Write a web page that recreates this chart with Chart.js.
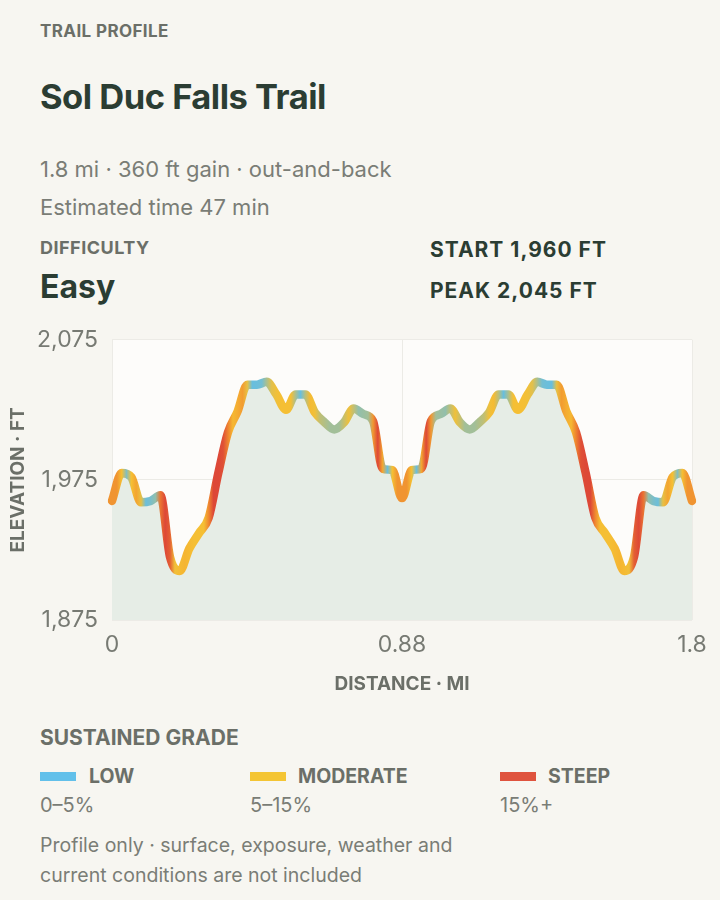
<!DOCTYPE html>
<html>
<head>
<meta charset="utf-8">
<script src="https://cdn.jsdelivr.net/npm/chart.js@4.4.1/dist/chart.umd.min.js"></script>
<style>
  html, body { margin: 0; padding: 0; }
  body {
    width: 720px; height: 900px; position: relative; overflow: hidden;
    background: #f7f6f1; font-family: Inter, "Noto Sans", sans-serif;
  }
  .t { position: absolute; white-space: nowrap; }
  .kicker { color: #6b6f68; font-weight: 700; }
  .dark { color: #2b3d33; font-weight: 700; }
  .grey { color: #7a7d76; }
  .sw { position: absolute; width: 36px; height: 9px; }
  #wrap { position: absolute; left: 0; top: 312px; width: 720px; height: 398px; }
</style>
</head>
<body>
<div class="t kicker" style="left:40px;top:20px;font-size:17px;line-height:22px;letter-spacing:0.4px;">TRAIL PROFILE</div>
<div class="t dark" style="left:40px;top:76px;font-size:34.5px;line-height:42px;letter-spacing:-0.5px;">Sol Duc Falls Trail</div>
<div class="t grey" style="left:40px;top:156px;font-size:22px;line-height:26px;">1.8 mi · 360 ft gain · out-and-back</div>
<div class="t grey" style="left:40px;top:194px;font-size:22px;line-height:26px;">Estimated time 47 min</div>
<div class="t kicker" style="left:40px;top:237px;font-size:18px;line-height:22px;letter-spacing:0.5px;">DIFFICULTY</div>
<div class="t dark" style="left:40px;top:268px;font-size:32px;line-height:38px;">Easy</div>
<div class="t dark" style="left:430px;top:237px;font-size:21px;line-height:26px;letter-spacing:1px;">START 1,960 FT</div>
<div class="t dark" style="left:430px;top:278px;font-size:21px;line-height:26px;letter-spacing:1px;">PEAK 2,045 FT</div>

<div id="wrap"><canvas id="profile"></canvas></div>

<div class="t kicker" style="left:40px;top:725px;font-size:21px;line-height:26px;">SUSTAINED GRADE</div>
<div class="sw" style="left:40px;top:772px;background:#62c0ea;"></div>
<div class="t kicker" style="left:89px;top:764px;font-size:19.5px;line-height:24px;">LOW</div>
<div class="t grey" style="left:40px;top:792px;font-size:20px;line-height:26px;">0–5%</div>
<div class="sw" style="left:250px;top:772px;background:#f4c534;"></div>
<div class="t kicker" style="left:298px;top:764px;font-size:19.5px;line-height:24px;">MODERATE</div>
<div class="t grey" style="left:250px;top:792px;font-size:20px;line-height:26px;">5–15%</div>
<div class="sw" style="left:500px;top:772px;background:#df533e;"></div>
<div class="t kicker" style="left:548px;top:764px;font-size:19.5px;line-height:24px;">STEEP</div>
<div class="t grey" style="left:500px;top:792px;font-size:20px;line-height:26px;">15%+</div>
<div class="t grey" style="left:40px;top:830px;font-size:19.5px;line-height:30px;white-space:normal;width:430px;">Profile only · surface, exposure, weather and current conditions are not included</div>

<script>
// distance along the trail (mi), out to the falls and back
const distance = [
    0, 0.03, 0.06, 0.09, 0.12, 0.15, 0.18, 0.21, 0.23, 0.26,
    0.29, 0.32, 0.35, 0.38, 0.41, 0.44, 0.47, 0.5, 0.53, 0.56,
    0.59, 0.62, 0.64, 0.67, 0.7, 0.73, 0.76, 0.79, 0.82, 0.85,
    0.88,
    0.91, 0.94, 0.97, 1.0, 1.03, 1.06, 1.09, 1.12, 1.15, 1.18,
    1.21, 1.24, 1.27, 1.3, 1.33, 1.36, 1.39, 1.42, 1.45, 1.48,
    1.51, 1.54, 1.57, 1.61, 1.64, 1.67, 1.7, 1.73, 1.77, 1.8
];
// elevation (ft)
const elevation = [
    1960, 1980, 1977, 1959, 1960, 1964, 1920, 1910, 1926, 1937,
    1948, 1980, 2009, 2024, 2043, 2043, 2045, 2036, 2025, 2036,
    2036, 2023, 2016, 2011, 2016, 2026, 2022, 2017, 1983, 1982,
    1962,
    1982, 1983, 2017, 2022, 2026, 2016, 2011, 2016, 2023, 2036,
    2036, 2025, 2036, 2045, 2043, 2043, 2024, 2009, 1980, 1948,
    1937, 1926, 1910, 1920, 1964, 1960, 1959, 1977, 1980, 1960
];
const yTicks = [1875, 1975, 2075];

// grade (%) -> colour ramp, low blue / moderate yellow / steep red
var ramp = [
    [0, [104, 190, 222]],
    [1, [108, 190, 218]],
    [6.5, [245, 192, 52]],
    [10, [245, 182, 50]],
    [14, [238, 130, 48]],
    [19, [221, 72, 55]]
];
function gradeColor(g) {
    if (g <= ramp[0][0]) return "rgb(" + ramp[0][1].join(",") + ")";
    for (var k = 1; k < ramp.length; k++) {
        if (g <= ramp[k][0]) {
            var a = ramp[k - 1], b = ramp[k];
            var t = (g - a[0]) / (b[0] - a[0]);
            var c = a[1].map(function (v, j) { return Math.round(v + (b[1][j] - v) * t); });
            return "rgb(" + c.join(",") + ")";
        }
    }
    return "rgb(" + ramp[ramp.length - 1][1].join(",") + ")";
}

// grade of each segment between neighbouring samples
var segFt = 1.8 / (elevation.length - 1) * 5280;
function segGrade(s) {
    return Math.abs(elevation[s + 1] - elevation[s]) / segFt * 100;
}

var gradCache = null;
function lineGradient(context) {
    var chart = context.chart;
    var area = chart.chartArea;
    if (!area) return "#f4c534";
    if (gradCache && gradCache.w === area.width) return gradCache.g;
    var n = elevation.length - 1;
    var g = chart.ctx.createLinearGradient(area.left, 0, area.right, 0);
    for (var i = 0; i <= n; i++) {
        // at each sample blend the grades either side, along the ramp
        var before = i > 0 ? segGrade(i - 1) : segGrade(i);
        var after = i < n ? segGrade(i) : segGrade(i - 1);
        g.addColorStop(i / n, gradeColor((before + after) / 2));
        if (i < n) {
            g.addColorStop((i + 0.5) / n, gradeColor(after));
        }
    }
    gradCache = { w: area.width, g: g };
    return g;
}

var plotBg = {
    id: "plotBg",
    beforeDraw: function (chart) {
        var a = chart.chartArea, c = chart.ctx;
        c.save();
        c.fillStyle = "#fdfcfa";
        c.fillRect(a.left, a.top, a.width, a.height);
        c.restore();
    }
};

var mid = (distance.length - 1) / 2;
var ctx = document.getElementById("profile").getContext("2d");
var myChart = new Chart(ctx, {
    type: "line",
    data: {
        labels: distance,
        datasets: [
            {
                data: elevation,
                borderColor: lineGradient,
                borderWidth: 8.5,
                borderCapStyle: "round",
                borderJoinStyle: "round",
                backgroundColor: "#e6ede6",
                fill: "start",
                pointRadius: 0,
                cubicInterpolationMode: "monotone"
            }
        ]
    },
    options: {
        responsive: true,
        maintainAspectRatio: false,
        animation: false,
        layout: { padding: { top: 0, right: 28, left: 0, bottom: 0 } },
        plugins: { legend: { display: false }, tooltip: { enabled: false } },
        scales: {
            x: {
                type: "category",
                afterFit: function (axis) { axis.height = 90; },
                grid: { color: "#ecebe6", drawTicks: false },
                border: { display: false },
                ticks: {
                    autoSkip: false,
                    maxRotation: 0,
                    padding: 11,
                    color: "#777a73",
                    font: { family: "Inter", size: 23 },
                    callback: function (value, index) {
                        if (index === 0 || index === mid || index === distance.length - 1) {
                            return String(distance[index]);
                        }
                        return null;
                    }
                },
                title: {
                    display: true,
                    text: "DISTANCE · MI",
                    color: "#6b6f68",
                    font: { family: "Inter", size: 19, weight: "bold" },
                    padding: { top: 0, bottom: 14 }
                }
            },
            y: {
                min: yTicks[0],
                max: yTicks[yTicks.length - 1],
                afterFit: function (axis) { axis.width = 112; },
                afterBuildTicks: function (axis) {
                    axis.ticks = yTicks.map(function (v) { return { value: v }; });
                },
                grid: { color: "#ecebe6", drawTicks: false },
                border: { display: false },
                ticks: {
                    padding: 14,
                    color: "#777a73",
                    font: { family: "Inter", size: 23 },
                    callback: function (v) { return v.toLocaleString("en-US"); }
                },
                title: {
                    display: true,
                    text: "ELEVATION · FT",
                    color: "#6b6f68",
                    font: { family: "Inter", size: 19, weight: "bold" },
                    padding: { top: 7, bottom: 0 }
                }
            }
        }
    },
    plugins: [plotBg]
});
</script>
</body>
</html>
